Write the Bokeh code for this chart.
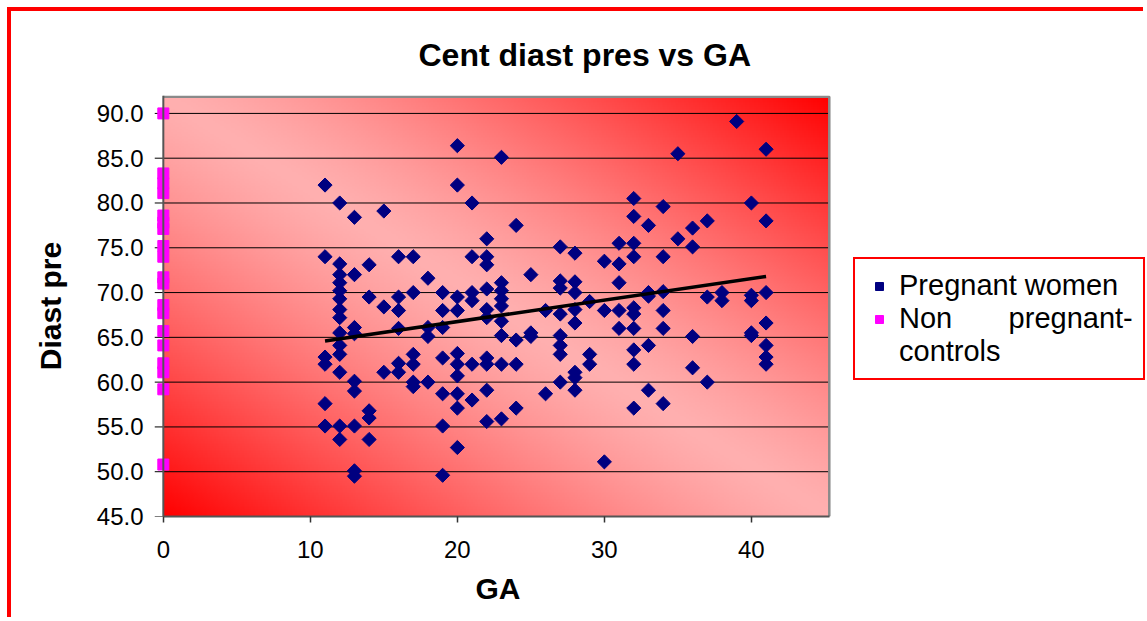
import numpy as np
from bokeh.plotting import figure
from bokeh.models import (FixedTicker, PrintfTickFormatter, Legend, LegendItem,
                          Span, Range1d, ColumnDataSource, Title)
from bokeh.embed import file_html
from bokeh.resources import INLINE

title_text = "Cent diast pres vs GA"
x_label = "GA"
y_label = "Diast pre"
label_preg = "Pregnant women"
label_ctrl_1 = "Non" + "\u00a0" * 7 + "pregnant-"
label_ctrl_2 = "controls"

# Pregnant women: gestational age (weeks) and diastolic pressure
preg_ga = [11, 11, 11, 11, 11, 11,
           12, 12, 12, 12, 12, 12, 12, 12, 12, 12, 12, 12, 12, 12,
           13, 13, 13, 13, 13, 13, 13, 13, 13,
           14, 14, 14, 14, 14,
           15, 15, 15,
           16, 16, 16, 16, 16, 16,
           17, 17, 17, 17, 17, 17,
           18, 18, 18, 18,
           19, 19, 19, 19, 19, 19, 19,
           20, 20, 20, 20, 20, 20, 20, 20, 20, 20,
           21, 21, 21, 21, 21, 21,
           22, 22, 22, 22, 22, 22, 22, 22, 22, 22,
           23, 23, 23, 23, 23, 23, 23, 23, 23,
           24, 24, 24, 24,
           25, 25, 25,
           26, 26,
           27, 27, 27, 27, 27, 27, 27, 27,
           28, 28, 28, 28, 28, 28, 28, 28,
           29, 29, 29,
           30, 30, 30,
           31, 31, 31, 31, 31,
           32, 32, 32, 32, 32, 32, 32, 32, 32, 32,
           33, 33, 33, 33, 33,
           34, 34, 34, 34, 34, 34,
           35, 35,
           36, 36, 36, 36,
           37, 37, 37,
           38, 38,
           39,
           40, 40, 40, 40, 40,
           41, 41, 41, 41, 41, 41, 41]
preg_dp = [82.0, 74.0, 62.8, 62.0, 57.6, 55.1,
           80.0, 73.2, 72.0, 71.1, 70.2, 69.3, 68.1, 67.2, 65.5, 64.1, 63.1, 61.1, 55.1, 53.6,
           78.4, 72.0, 66.1, 65.4, 60.1, 59.0, 55.1, 50.1, 49.5,
           73.1, 69.5, 56.8, 56.0, 53.6,
           79.1, 68.4, 61.1,
           74.0, 69.5, 68.0, 66.0, 62.1, 61.1,
           74.0, 70.0, 63.1, 62.0, 60.0, 59.5,
           71.6, 66.1, 65.1, 60.0,
           70.0, 68.0, 66.1, 62.7, 58.7, 55.1, 49.6,
           86.4, 82.0, 69.5, 68.0, 63.2, 62.0, 60.7, 58.7, 57.1, 52.7,
           80.0, 74.0, 70.0, 69.1, 62.0, 58.0,
           76.0, 74.0, 73.1, 70.4, 68.1, 67.2, 62.7, 62.0, 59.1, 55.6,
           85.1, 71.1, 70.2, 69.3, 68.5, 66.8, 65.2, 62.0, 55.9,
           77.5, 64.7, 62.0, 57.1,
           72.0, 65.5, 65.1,
           68.0, 58.7,
           75.1, 71.3, 70.5, 67.6, 65.2, 64.1, 63.1, 60.0,
           74.4, 71.2, 70.0, 68.1, 66.6, 61.1, 60.5, 59.1,
           69.0, 63.1, 62.0,
           73.5, 68.0, 51.1,
           75.5, 73.2, 71.1, 68.0, 66.0,
           80.5, 78.5, 75.5, 74.0, 68.3, 67.6, 66.0, 63.6, 62.0, 57.1,
           77.5, 70.0, 69.6, 64.1, 59.1,
           79.6, 74.0, 70.1, 68.0, 66.0, 57.6,
           85.5, 76.0,
           77.2, 75.1, 65.1, 61.6,
           78.0, 69.5, 60.0,
           70.0, 69.1,
           89.1,
           80.0, 69.7, 69.1, 65.5, 65.2,
           86.0, 78.0, 70.0, 66.6, 64.1, 62.8, 62.0]

# Non pregnant controls (plotted at GA = 0)
ctrl_ga = [0] * 19
ctrl_dp = [90.0, 83.3, 82.2, 81.1, 78.6, 77.8, 77.1, 75.2, 74.0, 71.7, 71.0,
           68.6, 67.7, 65.7, 64.1, 62.1, 61.1, 59.2, 50.8]

# Linear trend line of the pregnant series (end points)
trend_ga = [11, 41]
trend_dp = [64.6, 71.8]

x_ticks = [0, 10, 20, 30, 40]
y_ticks = [45, 50, 55, 60, 65, 70, 75, 80, 85, 90]

NAVY = "#000080"
MAGENTA = "#FF00FF"
FONT = "Liberation Sans"

# plot area: GA 0..45.3, pressure 45..91.85 ; frame extends right to hold the legend
XB, YB = 45.3, 91.85
X0, Y0, Y1 = -0.6, 45.0, 92.0
PX_PER_X = 14.7014
FRAME_W = 993
X1 = X0 + FRAME_W / PX_PER_X

p = figure(width=1136, height=610, x_range=Range1d(X0, X1), y_range=Range1d(Y0, Y1),
           output_backend="svg", toolbar_location=None,
           min_border_left=143, min_border_right=0, min_border_top=83, min_border_bottom=105,
           styles={"margin-left": "7px", "margin-top": "7px",
                   "border-left": "4px solid red", "border-top": "4px solid red"})
p.background_fill_color = "white"
p.border_fill_color = "white"
p.outline_line_color = None
# range used only by the legend-sample renderers (their points fall outside the frame)
p.extra_x_ranges = {"legend_only": Range1d(1000, 1001)}

# gradient background of the plot area
ny, nx = 240, 360
u = np.linspace(0, 1, nx)[None, :]
v = np.linspace(0, 1, ny)[:, None]
t = np.clip(np.abs(u + v - 1.0), 0, 1) ** 1.3
g = (176 * (1 - t)).astype(np.uint8)
img = np.zeros((ny, nx), dtype=np.uint32)
view = img.view(dtype=np.uint8).reshape((ny, nx, 4))
view[..., 0] = 255
view[..., 1] = g
view[..., 2] = g
view[..., 3] = 255
bg = p.image_rgba(image=[img], x=0, y=Y0, dw=XB, dh=YB - Y0)
bg.level = "image"

# horizontal grid lines (limited to the plot area)
p.xgrid.visible = False
p.ygrid.visible = False
p.segment(x0=X0, x1=XB, y0=y_ticks, y1=y_ticks, line_color="black", line_width=1)

# plot-area border (top & right)
p.line(x=[0, XB, XB], y=[YB, YB, Y0], line_color="#8a8a8a", line_width=2.5)

preg_src = ColumnDataSource(data=dict(ga=preg_ga, dp=preg_dp))
ctrl_src = ColumnDataSource(data=dict(ga=ctrl_ga, dp=ctrl_dp))

p.scatter(x="ga", y="dp", source=preg_src, marker="square", angle=np.pi / 4, size=10,
          fill_color=NAVY, line_color=NAVY)
p.line(x=trend_ga, y=trend_dp, line_color="black", line_width=3.5)

# y axis line at GA = 0
p.add_layout(Span(location=0, dimension="height", line_color="#555555", line_width=2))

p.scatter(x="ga", y="dp", source=ctrl_src, marker="square", size=11,
          fill_color=MAGENTA, line_color=MAGENTA)

# axes
for ax in (p.xaxis[0], p.yaxis[0]):
    ax.axis_line_color = "#555555"
    ax.axis_line_width = 2
    ax.major_tick_line_color = "#333333"
    ax.major_tick_line_width = 1.5
    ax.minor_tick_line_color = None
    ax.major_tick_in = 0
    ax.major_label_text_font = FONT
    ax.major_label_text_font_size = "24px"
    ax.major_label_text_color = "black"
    ax.axis_label_text_font = FONT
    ax.axis_label_text_font_size = "30px"
    ax.axis_label_text_font_style = "bold"
    ax.axis_label_text_color = "black"

p.xaxis.ticker = FixedTicker(ticks=x_ticks)
p.xaxis.bounds = (0, XB)
p.xaxis.major_tick_out = 6
p.xaxis.major_label_standoff = 18

p.yaxis.ticker = FixedTicker(ticks=y_ticks)
p.yaxis.formatter = PrintfTickFormatter(format="%.1f")
p.yaxis.axis_line_color = None
p.yaxis.major_tick_out = 0
p.yaxis.major_label_standoff = 11
p.yaxis.axis_label = y_label
p.yaxis.axis_label_standoff = 27

# x axis title, centred under the plot area
x_title = Title(text=x_label, text_font=FONT, text_font_size="30px", text_font_style="bold",
                text_color="black", align="left", offset=321, standoff=18)
p.add_layout(x_title, "below")

# title
p.title.text = title_text
p.title.text_font = FONT
p.title.text_font_size = "32px"
p.title.text_font_style = "bold"
p.title.text_color = "black"
p.title.align = "left"
p.title.offset = 264
p.title.standoff = 46

# legend (sample renderers use an off-screen range, so only their legend glyph shows)
r1 = p.scatter(x="ga", y="dp", source=preg_src, x_range_name="legend_only",
               marker="square", fill_color=NAVY, line_color=NAVY)
r2 = p.scatter(x="ga", y="dp", source=ctrl_src, x_range_name="legend_only",
               marker="square", fill_color=MAGENTA, line_color=MAGENTA)
r3 = p.scatter(x="ga", y="dp", source=ctrl_src, x_range_name="legend_only",
               marker="square", fill_alpha=0, line_alpha=0)
legend = Legend(items=[LegendItem(label=label_preg, renderers=[r1]),
                       LegendItem(label=label_ctrl_1, renderers=[r2]),
                       LegendItem(label=label_ctrl_2, renderers=[r3])],
                location=(699, 136))
legend.border_line_color = "red"
legend.border_line_width = 2
legend.border_line_alpha = 1
legend.background_fill_color = "white"
legend.background_fill_alpha = 1
legend.padding = 10
legend.margin = 0
legend.spacing = 0
legend.glyph_width = 28
legend.glyph_height = 20
legend.label_height = 32
legend.label_standoff = 6
legend.label_text_font = FONT
legend.label_text_font_size = "29px"
legend.label_text_color = "black"
p.add_layout(legend)

open("out.html", "w").write(file_html(p, INLINE))
